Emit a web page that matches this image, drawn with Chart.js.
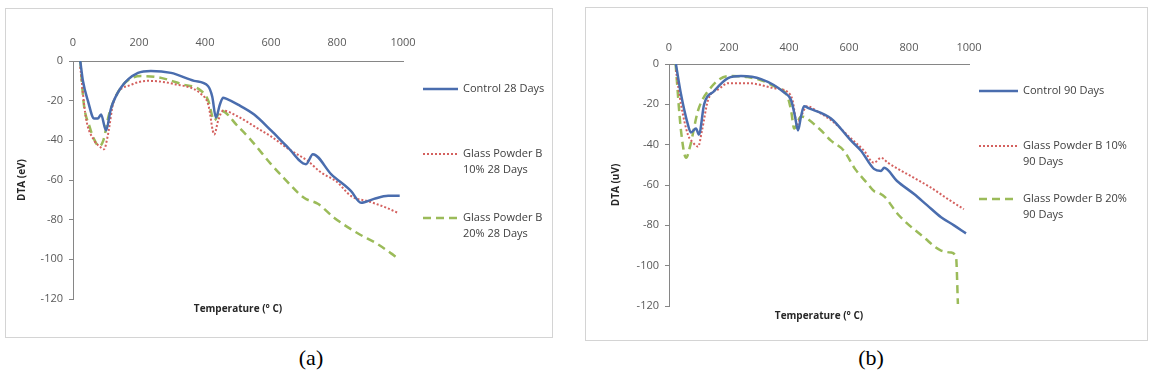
<!DOCTYPE html>
<html>
<head>
<meta charset="utf-8">
<script src="https://cdn.jsdelivr.net/npm/chart.js@4.4.0/dist/chart.umd.min.js"></script>
<style>
    body { margin: 0; background: #fff; width: 1151px; height: 385px; position: relative; overflow: hidden; }
    .panel { position: absolute; border: 1px solid #d4d4d4; background: #fff; box-sizing: border-box; }
    .caption { position: absolute; font-family: "Liberation Serif", serif; font-size: 22px; color: #000; transform: translateX(-50%); }
</style>
</head>
<body>
<div class="panel" style="left:5px; top:8px; width:548px; height:330px;"><canvas id="chartA" width="548" height="330"></canvas></div>
<div class="panel" style="left:585px; top:7px; width:563px; height:334px;"><canvas id="chartB" width="563" height="334"></canvas></div>
<div class="caption" style="left:311px; top:345px;">(a)</div>
<div class="caption" style="left:871px; top:345px;">(b)</div>
<script>
// 坐标轴刻度
const tempTicks = [0, 200, 400, 600, 800, 1000];
const dtaTicks = [0, -20, -40, -60, -80, -100, -120];

// (a) 28 天
const labelsA = [['Control 28 Days'], ['Glass Powder B', '10% 28 Days'], ['Glass Powder B', '20% 28 Days']];
const tempA_ctrl = [22, 30, 45, 64, 75, 85, 100, 115, 145, 197, 236, 297, 367, 409, 422, 433, 445, 455, 464, 500, 549, 600, 651, 706, 727, 782, 842, 873, 912, 955, 990];
const dtaA_ctrl = [0, -10, -20, -29, -29, -27, -35, -24, -13.5, -6, -5, -6, -10, -12.6, -18, -28.5, -22, -18.5, -19, -22, -27, -35, -43.5, -52, -47, -57, -65.5, -71.5, -69.5, -68, -68];
const tempA_10 = [22, 39, 64, 80, 94, 105, 124, 176, 227, 306, 388, 410, 428, 440, 455, 500, 550, 600, 650, 712, 750, 800, 842, 900, 950, 985];
const dtaA_10 = [-3, -28.5, -40, -43, -44.5, -38, -20, -12, -10, -11.6, -16.6, -22, -37, -30, -25, -28, -33, -38, -44, -50.5, -56, -61, -68, -71, -74, -76.6];
const tempA_20 = [22, 33, 50, 64, 79, 92, 109, 145, 206, 267, 327, 388, 410, 428, 448, 500, 540, 600, 639, 700, 742, 791, 864, 920, 964, 980];
const dtaA_20 = [0, -22, -33, -39.5, -43, -40, -27, -13.5, -7.6, -8.5, -11.6, -15, -20, -30, -25, -33, -40, -52, -59, -69, -72, -79, -87, -92, -97, -99];

// (b) 90 天
const labelsB = [['Control 90 Days'], ['Glass Powder B 10%', '90 Days'], ['Glass Powder B 20%', '90 Days']];
const tempB_ctrl = [23, 40, 63, 73, 90, 100, 117, 150, 197, 240, 307, 383, 407, 420, 430, 440, 450, 467, 540, 607, 640, 683, 707, 717, 760, 817, 860, 907, 950, 990];
const dtaB_ctrl = [0, -15, -30, -34, -32, -35, -20, -13.5, -7, -6, -7.5, -14, -18, -26, -33, -26, -21, -22, -27, -38, -43, -52, -53, -51.5, -58, -64.5, -70, -76, -80, -84];
const tempB_10 = [23, 40, 63, 80, 97, 110, 130, 170, 197, 263, 350, 397, 412, 427, 440, 460, 500, 550, 600, 650, 683, 707, 730, 817, 870, 930, 983];
const dtaB_10 = [-3, -20, -35, -39, -41, -33, -18, -12, -9.5, -9.5, -12, -14, -18, -30, -26, -21, -24, -29, -36, -43, -49, -46.5, -49, -56.5, -61, -67, -72];
const tempB_20 = [22, 40, 57, 70, 97, 130, 197, 263, 350, 397, 408, 417, 440, 500, 540, 583, 620, 660, 683, 700, 720, 763, 850, 907, 940, 957, 963];
const dtaB_20 = [0, -33, -46.5, -41, -23, -13.5, -6, -6.5, -11, -17, -24, -32, -26, -32, -38, -43, -52, -59, -63, -64, -66, -74.5, -86, -92.5, -93.5, -96, -119];

const seriesStyles = [
    { borderColor: '#4a6dae', borderWidth: 2.5, borderDash: [] },
    { borderColor: '#d4615f', borderWidth: 2, borderDash: [2, 2] },
    { borderColor: '#9bbb59', borderWidth: 2.5, borderDash: [8, 5] }
];

function toPoints(xs, ys) {
    return xs.map((x, i) => ({ x: x, y: ys[i] }));
}

// 右侧图例 + 底部横轴标题
const sideLegendPlugin = {
    id: 'sideLegend',
    afterDraw(chart, args, opts) {
        const ctx = chart.ctx;
        const area = chart.chartArea;
        ctx.save();
        chart.data.datasets.forEach((ds, i) => {
            const y = opts.rows[i];
            ctx.strokeStyle = ds.borderColor;
            ctx.lineWidth = ds.borderWidth;
            ctx.setLineDash(ds.borderDash || []);
            ctx.beginPath();
            ctx.moveTo(opts.lineX, y);
            ctx.lineTo(opts.lineX + opts.lineLen, y);
            ctx.stroke();
            ctx.setLineDash([]);
            ctx.fillStyle = '#404040';
            ctx.font = '11px "Open Sans", sans-serif';
            ctx.textBaseline = 'middle';
            ctx.textAlign = 'left';
            ds.lines.forEach((t, k) => {
                ctx.fillText(t, opts.lineX + opts.lineLen + 5, y + k * opts.lineGap);
            });
        });
        ctx.fillStyle = '#262626';
        ctx.font = 'bold 10px "Open Sans", sans-serif';
        ctx.textAlign = 'center';
        ctx.textBaseline = 'middle';
        ctx.fillText('Temperature (\u00b0 C)', (area.left + area.right) / 2, opts.titleY);
        ctx.restore();
    }
};

function makeChart(id, series, labels, yTitle, geo) {
    const datasets = series.map((s, i) => Object.assign({
        label: labels[i].join(' '),
        lines: labels[i],
        data: toPoints(s[0], s[1]),
        pointRadius: 0,
        fill: false,
        cubicInterpolationMode: 'monotone'
    }, seriesStyles[i]));

    new Chart(document.getElementById(id).getContext('2d'), {
        type: 'line',
        data: { datasets: datasets },
        plugins: [sideLegendPlugin],
        options: {
            responsive: false,
            animation: false,
            layout: { padding: { left: geo.padLeft, top: 0, right: geo.padRight, bottom: geo.padBottom } },
            plugins: {
                legend: { display: false },
                tooltip: { enabled: false },
                sideLegend: geo.legend
            },
            scales: {
                x: {
                    type: 'linear',
                    position: 'top',
                    min: tempTicks[0],
                    max: tempTicks[tempTicks.length - 1],
                    afterBuildTicks: (scale) => { scale.ticks = tempTicks.map(v => ({ value: v })); },
                    afterFit: (scale) => { scale.height = geo.top; },
                    grid: { display: true, drawOnChartArea: false, drawTicks: false, color: '#868686' },
                    border: { display: true, color: '#868686', width: 1 },
                    ticks: {
                        padding: geo.xTickPad, maxRotation: 0, color: '#595959',
                        font: { family: '"Open Sans", sans-serif', size: 11 },
                        callback: (v) => String(v)
                    }
                },
                y: {
                    min: dtaTicks[dtaTicks.length - 1],
                    max: dtaTicks[0],
                    afterBuildTicks: (scale) => { scale.ticks = dtaTicks.slice().reverse().map(v => ({ value: v })); },
                    afterFit: (scale) => { scale.width = geo.yWidth; },
                    grid: { display: true, drawOnChartArea: false, drawTicks: true, tickLength: 4, color: '#868686' },
                    border: { display: true, color: '#868686', width: 1 },
                    ticks: {
                        padding: 6, color: '#595959',
                        font: { family: '"Open Sans", sans-serif', size: 11 },
                        callback: (v) => String(v)
                    },
                    title: {
                        display: true,
                        text: yTitle,
                        color: '#262626',
                        padding: { top: 2, bottom: 0 },
                        font: { family: '"Open Sans", sans-serif', size: 10, weight: 'bold' }
                    }
                }
            }
        }
    });
}

makeChart('chartA',
    [[tempA_ctrl, dtaA_ctrl], [tempA_10, dtaA_10], [tempA_20, dtaA_20]],
    labelsA, 'DTA (eV)',
    { padLeft: 8, yWidth: 59, top: 52, padRight: 151, padBottom: 40, xTickPad: 12,
      legend: { lineX: 417, lineLen: 35, rows: [80, 145, 209], lineGap: 16, titleY: 300 } });

makeChart('chartB',
    [[tempB_ctrl, dtaB_ctrl], [tempB_10, dtaB_10], [tempB_20, dtaB_20]],
    labelsB, 'DTA (uV)',
    { padLeft: 22, yWidth: 61, top: 56, padRight: 180, padBottom: 36, xTickPad: 10,
      legend: { lineX: 393, lineLen: 39, rows: [83, 138, 191], lineGap: 16, titleY: 308 } });
</script>
</body>
</html>
